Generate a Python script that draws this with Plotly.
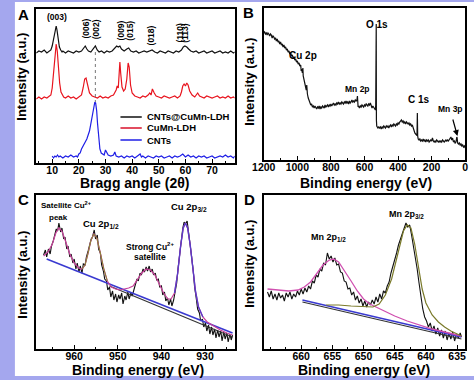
import plotly.graph_objects as go

W, H = 474, 380
FONT = "Liberation Sans, Arial, sans-serif"

# ---------------- Panel A: XRD (2theta, offset intensity a.u.) ----------------
A_LDH_CNT = [(4,110),(5,112),(6,111),(7,113),(8,110),(9,112),(9.5,113),(10,117),(10.5,124),(11,133),
    (11.5,137),(11.8,133),(12.2,124),(12.7,116),(13.2,113),(13.7,111),(14,112),(15,110),(16,112),(17,111),
    (18,110),(19,112),(20,111),(21,112),(21.7,114),(22.4,117),(23,114),(23.6,112),(24.5,111),(25.4,114),
    (26.2,117),(26.9,113),(27.6,111),(28.5,112),(29.5,110),(30.5,112),(31.5,111),(32.5,112),(33.4,115),
    (34.2,117),(34.8,116),(35.4,117),(36,114),(37,112),(38,114),(38.7,115),(39.5,112),(40.5,111),(41.5,112),
    (42.5,110),(43.5,111),(44.5,112),(45.5,111),(46.5,112),(47.5,113),(48.5,111),(49.5,110),(50.5,112),
    (51.5,111),(52.5,110),(53.5,112),(54.5,111),(55.5,110),(56.5,112),(57.5,111),(58.5,113),(59.2,116),
    (59.8,117),(60.5,116),(61.2,114),(62,112),(63,111),(64,112),(65,110),(66,111),(67,112),(68,110),
    (69,111),(70,112),(71,110),(72,111),(73,112),(74,110),(75,111),(76,110),(77,112),(78,110),(78.5,111)]

A_LDH = [(4,64),(5,66),(6,64),(7,66),(8,65),(9,67),(9.5,68),(10,75),(10.5,90),(11,110),(11.5,119),
    (11.9,112),(12.3,95),(12.8,80),(13.3,71),(13.8,68),(14.3,66),(15,65),(16,67),(17,65),(18,66),(19,64),
    (20,66),(21,68),(21.6,75),(22.2,84),(22.7,85),(23.3,78),(24,70),(25,67),(26,66),(27,65),(28,67),(29,65),
    (30,66),(31,65),(32,67),(33,68),(34,73),(34.4,77),(34.8,75),(35.1,88),(35.4,101),(35.7,90),(36.2,76),
    (36.8,72),(37.4,74),(38,84),(38.5,100),(38.9,96),(39.4,78),(40,70),(41,67),(42,66),(43,65),(44,67),
    (45,66),(46,68),(46.6,70),(47.1,68),(47.6,74),(48.3,70),(49,67),(50,66),(51,65),(52,67),(53,66),(54,65),
    (55,66),(56,67),(57,65),(58,67),(58.5,71),(59,77),(59.5,79),(60,77),(60.5,80),(61,78),(61.6,72),
    (62.5,68),(63.5,66),(64.6,70),(65.3,67),(66,66),(67,65),(68,67),(69,66),(70,65),(71,66),(72,67),
    (73,65),(74,66),(75,65),(76,67),(77,65),(78,66),(78.5,65)]

A_CNT = [(10,7),(10.5,5),(11,7),(11.5,6),(12,8),(12.5,6),(13,7),(14,5),(15,7),(16,6),(17,8),(18,6),
    (19,7),(19.5,6),(20,9),(20.5,10),(21,14),(22,19),(23,24),(24,32),(24.6,40),(25.2,48),(25.6,55),
    (26,61),(26.3,60),(26.7,52),(27,40),(27.4,26),(27.9,14),(28.4,10),(29,9),(29.5,8),(30,13),(30.5,10),
    (31,8),(32,7),(33,8),(33.5,11),(34,7),(35,6),(36,7),(37,5),(38,7),(39,6),(40,7),(41,5),(42,7),(43,9),
    (43.5,6),(44,7),(45,5),(46,7),(47,6),(48,5),(49,7),(50,6),(51,7),(52,5),(53,6),(54,7),(55,5),(56,7),
    (57,6),(58,7),(59,9),(59.5,7),(60,6),(61,8),(62,6),(63,7),(64,5),(65,7),(66,6),(67,7),(68,5),(69,6),
    (70,7),(71,5),(72,6),(73,7),(74,6),(75,8),(76,6),(77,7),(78,5),(78.5,7)]

A_REF_LINE = [(26.2,111),(26.2,61)]
A_NAMES = ["CNTs@CuMn-LDH", "CuMn-LDH", "CNTs"]
A_XTICKS = [10, 20, 30, 40, 50, 60, 70]

# ---------------- Panel B: XPS survey ----------------
B_SURVEY = [(1200,127),(1195,128),(1190,126),(1185,127),(1180,125),(1175,127),(1170,126),(1165,124),
    (1160,126),(1155,125),(1150,122),(1145,124),(1140,123),(1135,121),(1130,122),(1125,119),(1120,121),
    (1115,118),(1110,119),(1105,116),(1100,118),(1095,115),(1090,116),(1085,113),(1080,115),(1075,112),
    (1070,113),(1065,110),(1060,111),(1055,108),(1050,109),(1045,106),(1040,107),(1035,104),(1030,105),
    (1025,102),(1020,103),(1015,100),(1010,101),(1005,98),(1000,99),(995,96),(990,97),(985,94),(980,95),
    (977,89),(975,91),(970,87),(967,92),(965,84),(960,80),(957,76),(955,74),(950,72),(947,70),(944,75),
    (942,68),(940,66),(935,62),(930,60),(925,57),(920,55),(915,56),(910,53),(905,54),(900,52),(895,54),
    (890,53),(885,51),(880,53),(875,52),(870,54),(865,51),(860,53),(855,52),(850,54),(845,53),(840,52),
    (835,55),(830,53),(825,54),(820,55),(815,53),(810,55),(805,54),(800,56),(795,54),(790,55),(785,57),
    (780,55),(775,56),(770,55),(765,57),(760,56),(755,58),(750,56),(745,57),(740,56),(735,58),(730,57),
    (725,56),(720,58),(715,57),(710,59),(705,57),(700,58),(695,56),(690,59),(685,57),(680,58),(675,60),
    (670,58),(665,59),(660,58),(655,60),(650,59),(645,60),(642,64),(640,60),(638,53),(635,54),(630,52),
    (625,54),(620,53),(615,55),(610,54),(605,53),(600,55),(595,54),(590,56),(585,55),(580,54),(575,56),
    (570,55),(565,57),(560,54),(555,52),(550,54),(545,53),(540,51),(535,50),(533,55),(531,135),(530,136),
    (529,40),(527,34),(525,33),(520,32),(515,33),(510,32),(505,33),(500,31),(495,33),(490,32),(485,34),
    (480,33),(475,32),(470,34),(465,33),(460,34),(455,32),(450,34),(445,35),(440,33),(435,35),(430,34),
    (425,36),(420,35),(415,34),(410,36),(405,35),(400,37),(395,36),(390,38),(385,39),(380,40),(375,38),
    (370,39),(365,37),(360,38),(355,36),(350,38),(345,37),(340,36),(335,37),(330,35),(325,36),(320,34),
    (315,35),(310,32),(305,29),(300,27),(295,26),(290,25),(287,26),(285,47),(284,46),(283,24),(280,21),
    (275,20),(270,21),(265,19),(260,20),(255,19),(250,21),(245,19),(240,20),(235,18),(230,20),(225,19),
    (220,20),(215,18),(210,19),(205,20),(200,19),(195,22),(190,19),(185,18),(180,19),(175,18),(170,20),
    (165,19),(160,18),(155,19),(150,18),(145,19),(140,18),(135,20),(130,19),(125,18),(120,19),(115,20),
    (110,19),(105,20),(100,19),(95,20),(90,21),(85,23),(80,20),(75,22),(70,18),(65,19),(60,17),(55,18),
    (50,23),(48,22),(45,17),(40,16),(35,17),(30,15),(25,16),(20,14),(15,15),(10,13),(5,14),(0,12)]
B_XTICKS = [1200, 1000, 800, 600, 400, 200, 0]

# ---------------- Panel C: Cu 2p ----------------
C_DATA = [(967.0,94),(966.6,99),(966.3,92),(965.9,100),(965.5,95),(965.2,103),(964.8,108),(964.5,114),
    (964.1,120),(963.8,118),(963.5,126),(963.1,117),(962.8,121),(962.4,110),(962.1,112),(961.7,100),
    (961.4,103),(961.0,92),(960.7,95),(960.3,86),(960.0,90),(959.6,80),(959.3,86),(958.9,77),(958.6,83),
    (958.2,76),(957.9,85),(957.5,84),(957.2,92),(956.8,98),(956.5,104),(956.1,110),(955.8,112),(955.4,119),
    (955.1,110),(954.7,114),(954.4,100),(954.0,96),(953.7,84),(953.3,78),(953.0,70),(952.6,68),(952.3,59),
    (951.9,62),(951.6,52),(951.2,58),(950.9,49),(950.5,55),(950.2,47),(949.8,54),(949.5,50),(949.1,56),
    (948.8,45),(948.4,53),(948.1,49),(947.7,57),(947.4,50),(947.0,56),(946.7,53),(946.3,61),(946.0,64),
    (945.6,70),(945.3,68),(944.9,76),(944.6,74),(944.2,80),(943.9,77),(943.5,82),(943.2,78),(942.8,83),
    (942.5,77),(942.1,80),(941.8,74),(941.4,76),(941.1,69),(940.7,70),(940.4,62),(940.0,63),(939.7,54),
    (939.3,57),(939.0,48),(938.6,51),(938.3,44),(937.9,50),(937.6,43),(937.2,49),(936.9,55),(936.5,66),
    (936.2,80),(935.8,96),(935.5,110),(935.1,121),(934.8,127),(934.5,125),(934.1,128),(933.8,118),
    (933.4,108),(933.1,93),(932.7,78),(932.4,62),(932.0,50),(931.7,40),(931.3,36),(931.0,28),(930.6,30),
    (930.3,22),(929.9,26),(929.6,18),(929.2,24),(928.9,15),(928.5,22),(928.2,14),(927.8,20),(927.5,11),
    (927.1,19),(926.8,12),(926.4,18),(926.1,8),(925.7,17),(925.4,10),(925.0,16),(924.7,7),(924.3,15),
    (924.0,9),(923.7,14)]
C_ENVELOPE = [(967.0,93),(966.0,97),(965.0,105),(964.2,116),(963.5,121),(962.8,118),(962.0,108),
    (961.0,95),(960.0,86),(959.0,81),(958.2,80),(957.5,84),(956.8,96),(956.2,108),(955.5,115),(954.8,111),
    (954.0,96),(953.2,80),(952.4,68),(951.5,62),(950.5,60),(949.5,59),(948.5,60),(947.5,61),(946.5,63),
    (945.5,69),(944.5,76),(943.5,80),(942.5,79),(941.5,74),(940.5,65),(939.5,56),(938.5,50),(937.8,50),
    (937.0,56),(936.3,75),(935.6,103),(935.0,121),(934.5,126),(934.0,121),(933.4,104),(932.8,80),
    (932.2,58),(931.5,42),(930.5,32),(929.5,27),(928.0,23),(926.5,19),(925.0,16),(923.7,14)]
C_P12_FIT = [(958.2,80),(957.5,84),(956.8,96),(956.2,108),(955.5,115),(954.8,111),(954.0,96),(953.2,80),
    (952.4,68)]
C_P32_FIT = [(937.0,56),(936.3,75),(935.6,103),(935.0,121),(934.5,126),(934.0,121),(933.4,104),
    (932.8,80),(932.2,58),(931.5,42),(930.5,32)]
C_BG_BLUE = [(966.3,90),(923.7,16)]
C_BG_DARK = [(951.9,63),(923.7,12)]
C_XTICKS = [960, 950, 940, 930]

# ---------------- Panel D: Mn 2p ----------------
D_DATA = [(665.4,57),(665.1,52),(664.8,58),(664.5,50),(664.2,55),(663.9,49),(663.6,56),(663.3,51),
    (663.0,54),(662.7,48),(662.4,56),(662.1,52),(661.8,57),(661.5,50),(661.2,55),(660.9,52),(660.6,58),
    (660.3,54),(660.0,60),(659.7,55),(659.4,61),(659.1,57),(658.8,63),(658.5,60),(658.2,68),(657.9,66),
    (657.6,74),(657.3,72),(657.0,80),(656.7,78),(656.4,86),(656.1,84),(655.8,96),(655.5,90),(655.2,93),
    (654.9,87),(654.6,91),(654.3,84),(654.0,85),(653.7,77),(653.4,76),(653.1,68),(652.8,67),(652.5,60),
    (652.2,61),(651.9,54),(651.6,57),(651.3,49),(651.0,53),(650.7,46),(650.4,50),(650.1,43),(649.8,48),
    (649.5,42),(649.2,47),(648.9,44),(648.6,49),(648.3,45),(648.0,52),(647.7,47),(647.4,55),(647.1,50),
    (646.8,58),(646.5,56),(646.2,63),(645.9,67),(645.6,76),(645.3,82),(645.0,90),(644.7,96),(644.4,104),
    (644.1,110),(643.8,116),(643.5,121),(643.2,126),(642.9,122),(642.6,124),(642.3,114),(642.0,104),
    (641.7,92),(641.4,80),(641.1,66),(640.8,52),(640.5,40),(640.2,32),(639.9,28),(639.6,22),(639.3,26),
    (639.0,18),(638.7,23),(638.4,15),(638.1,21),(637.8,13),(637.5,19),(637.2,11),(636.9,18),(636.6,9),
    (636.3,16),(636.0,10),(635.7,17),(635.4,8),(635.1,15),(634.8,11),(634.5,16),(634.3,12)]
D_P12_FIT = [(665.4,60),(664.0,59),(662.0,58),(660.5,59),(659.5,62),(658.5,67),(657.5,75),(656.5,84),
    (655.5,89),(654.8,90),(654.0,87),(653.0,78),(652.0,68),(651.0,58),(650.0,50),(649.0,45),(648.0,42),
    (647.0,39),(646.0,36),(645.0,33),(643.0,28),(641.0,24),(639.0,20),(637.0,17),(635.0,14),(634.3,13)]
D_P32_FIT = [(656.0,44),(654.0,44),(652.0,43),(650.0,42),(648.5,42),(647.5,45),(646.5,54),(645.5,70),
    (644.5,95),(643.6,118),(643.0,124),(642.4,121),(641.8,105),(641.2,82),(640.6,60),(640.0,46),
    (639.0,34),(638.0,27),(637.0,22),(636.0,18),(635.0,15),(634.3,13)]
D_BG_BLUE = [(659.8,49),(634.3,12)]
D_BG_DARK = [(659.8,47),(634.3,10)]
D_XTICKS = [660, 655, 650, 645, 640, 635]


def xs(pts):
    return [p[0] for p in pts]


def ys(pts):
    return [p[1] for p in pts]


fig = go.Figure()


def line(pts, axis, color, width=1.0, dash=None):
    fig.add_trace(go.Scatter(x=xs(pts), y=ys(pts), mode="lines", xaxis="x" + axis, yaxis="y" + axis,
                             line=dict(color=color, width=width, dash=dash), showlegend=False,
                             hoverinfo="skip"))

BLACK, RED, BLUE = "#111111", "#e8141e", "#1f1fe6"
# A
line(A_LDH_CNT, "", BLACK, 1.2)
line(A_LDH, "", RED, 1.2)
line(A_CNT, "", BLUE, 1.2)
line(A_REF_LINE, "", "#777777", 1.0, "dot")
# B
line(B_SURVEY, "2", BLACK, 1.2)
# C
line(C_DATA, "3", BLACK, 1.1)
line(C_BG_DARK, "3", "#333333", 1.2)
line(C_BG_BLUE, "3", "#3a3ad0", 1.6)
line(C_ENVELOPE, "3", "#c8409a", 1.2)
line(C_P12_FIT, "3", "#8a8a30", 1.0)
line(C_P32_FIT, "3", "#5a3cc8", 1.4)
# D
line(D_DATA, "4", BLACK, 1.1)
line(D_BG_DARK, "4", "#333333", 1.2)
line(D_BG_BLUE, "4", "#3a3ad0", 1.6)
line(D_P12_FIT, "4", "#d050b0", 1.3)
line(D_P32_FIT, "4", "#7a7a2a", 1.2)


def P(px, py):
    return px / W, 1 - py / H


axis_common = dict(showline=True, linecolor="black", linewidth=1.5, mirror=True, showgrid=False,
                   zeroline=False)
tickf = dict(family=FONT, size=10.5, color="black", weight="bold")


def xaxis(dom, rng, tickvals, minor_dtick):
    return dict(domain=dom, range=rng, tickmode="array", tickvals=tickvals, ticks="inside", ticklen=4,
                tickwidth=1.2, tickcolor="black", tickfont=tickf, ticklabelstandoff=-3,
                minor=dict(ticks="inside", ticklen=2.5, dtick=minor_dtick, tickcolor="black"),
                **axis_common)


def yaxis(dom, rng):
    return dict(domain=dom, range=rng, showticklabels=False, ticks="", **axis_common)

dxL = [25 / W, 230 / W]
dxR = [260 / W, 468 / W]

fig.update_layout(
    width=W, height=H, margin=dict(l=0, r=0, t=0, b=0),
    paper_bgcolor="#a4a7ee", plot_bgcolor="white",
    xaxis=xaxis(dxL, [4, 78.5], A_XTICKS, 5),
    yaxis=yaxis([1 - 163 / H, 1 - 9 / H], [0, 154]),
    xaxis2=dict(xaxis(dxR, [1200, 0], B_XTICKS, 100), anchor="y2"),
    yaxis2=dict(yaxis([1 - 160 / H, 1 - 8 / H], [0, 152]), anchor="x2"),
    xaxis3=dict(xaxis(dxL, [968.7, 923.2], C_XTICKS, 5), anchor="y3"),
    yaxis3=dict(yaxis([1 - 349 / H, 1 - 195 / H], [0, 154]), anchor="x3"),
    xaxis4=dict(xaxis(dxR, [666, 633.7], D_XTICKS, 2.5), anchor="y4"),
    yaxis4=dict(yaxis([1 - 349 / H, 1 - 195 / H], [0, 154]), anchor="x4"),
)
fig.layout.yaxis.anchor = "x"
fig.layout.xaxis.anchor = "y"

shapes = [dict(type="rect", xref="paper", yref="paper", x0=3 / W, x1=1.01, y0=4 / H, y1=1 - 2 / H,
               fillcolor="white", line=dict(width=0), layer="below")]

annotations = []


def text(s, px, py, size, angle=0, xanchor="center"):
    x, y = P(px, py)
    annotations.append(dict(text=s, x=x, y=y, xref="paper", yref="paper", showarrow=False,
                            textangle=angle, xanchor=xanchor, yanchor="middle",
                            font=dict(family=FONT, size=size, color="black", weight="bold")))

# panel letters
text("A", 12, 14, 15)
text("B", 244, 13, 15)
text("C", 12, 199, 15)
text("D", 245, 199, 15)
# axis titles
for px, py in [(10, 77), (244.5, 82), (10, 275), (244.5, 264)]:
    text("Intensity (a.u.)", px, py, 13, -90)
text("Bragg angle (2θ)", 127, 183, 14)
text("Binding energy (eV)", 366, 183, 14)
text("Binding energy (eV)", 130, 370, 14)
text("Binding energy (eV)", 364, 370, 14)

# A peak labels
text("(003)", 46, 17, 8.5)
for s, px, py in [("(006)", 76, 29), ("(002)", 87, 29), ("(009)", 113, 30), ("(015)", 121.5, 31),
                  ("(018)", 144, 35), ("(110)", 173, 33), ("(113)", 178.5, 33)]:
    text(s, px, py, 8.5, -90)

# A legend
for name, col, py in zip(A_NAMES, [BLACK, "#d8102a", BLUE], [117, 128, 140]):
    x0, y0 = P(112, py)
    x1, _ = P(134, py)
    shapes.append(dict(type="line", xref="paper", yref="paper", x0=x0, x1=x1, y0=y0, y1=y0,
                       line=dict(color=col, width=1.5)))
    text(name, 137, py, 9.5, xanchor="left")

# B labels
text("O 1s", 377, 25, 10)
text("Cu 2p", 301, 55, 10)
text("Mn 2p", 357, 89, 8.5)
text("C 1s", 420, 100, 10)
text("Mn 3p", 453, 109, 8.5)
hx, hy = P(460, 136)
annotations.append(dict(x=hx, y=hy, xref="paper", yref="paper", ax=-5, ay=-18, showarrow=True,
                        arrowhead=2, arrowsize=1, arrowwidth=1.2, arrowcolor="black", text=""))

# C labels
text("Satellite Cu<sup>2+</sup>", 56, 205, 8)
text("peak", 48, 217, 8)
text("Cu 2p<sub>1/2</sub>", 92, 224, 9.5)
text("Strong Cu<sup>2+</sup>", 142, 246, 8.5)
text("satellite", 142, 257, 8.5)
text("Cu 2p<sub>3/2</sub>", 183, 207, 9.5)
# D labels
text("Mn 2p<sub>1/2</sub>", 327, 237, 9)
text("Mn 2p<sub>3/2</sub>", 407, 214, 9)

fig.update_layout(shapes=shapes, annotations=annotations)
fig.write_html("out.html", config={"displayModeBar": False},
               post_script="document.body.style.margin='0';document.body.style.padding='0';")
